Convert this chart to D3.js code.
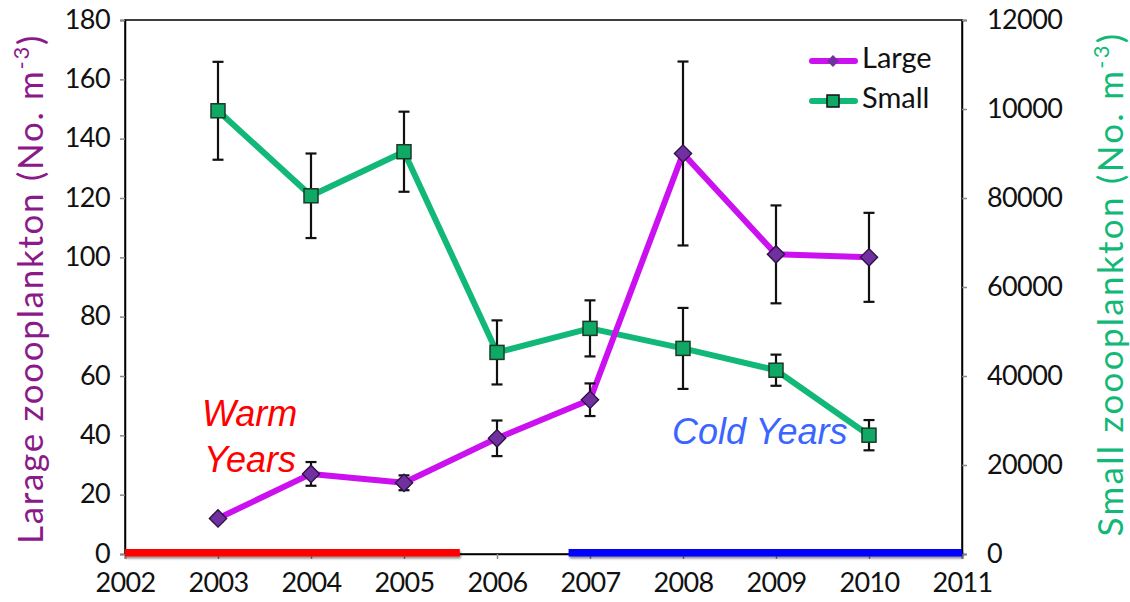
<!DOCTYPE html>
<html>
<head>
<meta charset="utf-8">
<script src="https://cdn.jsdelivr.net/npm/d3@7"></script>
<style>
  html, body { margin: 0; padding: 0; background: #fff; }
  svg { display: block; font-family: Lato, "Open Sans", "Liberation Sans", sans-serif; }
</style>
</head>
<body>
<svg id="chart" width="1130" height="602"></svg>
<script>
// Survey years
const years = [2003, 2004, 2005, 2006, 2007, 2008, 2009, 2010];
// Large zooplankton (No. m^-3), mean and error
const largeMean = [12, 27, 24, 39, 52, 135, 101, 100];
const largeErr  = [1, 4, 2.5, 6, 5.5, 31, 16.5, 15];
// Small zooplankton (No. m^-3), mean and error
const smallMean = [99600, 80500, 90400, 45300, 50700, 46200, 41300, 26700];
const smallErr  = [11000, 9500, 9000, 7200, 6300, 9100, 3500, 3400];
// Axis ticks
const xTicks = [2002, 2003, 2004, 2005, 2006, 2007, 2008, 2009, 2010, 2011];
const leftTicks = [0, 20, 40, 60, 80, 100, 120, 140, 160, 180];
const rightTicks = [0, 20000, 40000, 60000, 80000, 100000, 120000];
const rightTickLabels = ["0", "20000", "40000", "60000", "80000", "10000", "12000"];
// Climate periods along the baseline
const periods = [
  { name: "Warm", start: 2002, end: 2005.6, color: "#ff0000" },
  { name: "Cold", start: 2006.77, end: 2011, color: "#0000ff" }
];

const svg = d3.select("#chart");
const L = 125, R = 962, T = 20, B = 554;

const x = d3.scaleLinear().domain([2002, 2011]).range([L, R]);
const yL = d3.scaleLinear().domain([0, 180]).range([B, T]);
const yR = d3.scaleLinear().domain([0, 120000]).range([B, T]);

const largeColor = "#cc11f0";
const largeMarker = "#7030a0";
const smallColor = "#12b878";
const smallMarker = "#10a865";

// Plot frame (top and sides)
svg.append("rect").attr("x", L).attr("y", T).attr("width", R - L).attr("height", B - T)
  .attr("fill", "none").attr("stroke", "#000").attr("stroke-width", 1.5);

// Axes
const fontSize = 27;
const gx = svg.append("g").attr("transform", `translate(0,${B})`)
  .call(d3.axisBottom(x).tickValues(xTicks).tickFormat(d3.format("d")).tickSize(5).tickPadding(7));
const gl = svg.append("g").attr("transform", `translate(${L},0)`)
  .call(d3.axisLeft(yL).tickValues(leftTicks).tickSize(5).tickPadding(10));
const gr = svg.append("g").attr("transform", `translate(${R},0)`)
  .call(d3.axisRight(yR).tickValues(rightTicks).tickFormat((d, i) => rightTickLabels[i]).tickSize(5).tickPadding(20));
[gx, gl, gr].forEach(g => {
  g.select(".domain").attr("stroke", "#000").attr("stroke-width", 1.5);
  g.selectAll(".tick line").attr("stroke", "#888").attr("stroke-width", 1.5);
  g.selectAll("text").attr("font-size", fontSize).attr("fill", "#111")
    .attr("font-family", "Lato, 'Open Sans', sans-serif").attr("letter-spacing", -0.6);
});
gx.selectAll("text").attr("dy", "0.95em");
gl.selectAll("text").attr("dy", "0.3em");

// Period bars on the baseline
const shadow = svg.append("defs").append("filter").attr("id", "sh")
  .attr("x", "-5%").attr("y", "-100%").attr("width", "110%").attr("height", "300%");
shadow.append("feDropShadow").attr("dx", 1).attr("dy", 2).attr("stdDeviation", 1.2)
  .attr("flood-color", "#000").attr("flood-opacity", 0.45);
svg.append("g").selectAll("rect").data(periods).join("rect")
  .attr("x", d => x(d.start)).attr("width", d => x(d.end) - x(d.start))
  .attr("y", B - 5).attr("height", 7.5)
  .attr("fill", d => d.color)
  .attr("filter", "url(#sh)");

// Error bars
function errorBars(mean, err, y) {
  const g = svg.append("g").attr("stroke", "#111").attr("stroke-width", 2.2);
  years.forEach((yr, i) => {
    const cx = x(yr), top = y(mean[i] + err[i]), bot = y(mean[i] - err[i]);
    g.append("line").attr("x1", cx).attr("x2", cx).attr("y1", top).attr("y2", bot);
    g.append("line").attr("x1", cx - 5.5).attr("x2", cx + 5.5).attr("y1", top).attr("y2", top);
    g.append("line").attr("x1", cx - 5.5).attr("x2", cx + 5.5).attr("y1", bot).attr("y2", bot);
  });
}

// Small series
const smallLine = d3.line().x((d, i) => x(years[i])).y(d => yR(d));
svg.append("path").datum(smallMean).attr("d", smallLine)
  .attr("fill", "none").attr("stroke", smallColor).attr("stroke-width", 6).attr("stroke-linejoin", "round");
errorBars(smallMean, smallErr, yR);
svg.append("g").selectAll("rect").data(smallMean).join("rect")
  .attr("x", (d, i) => x(years[i]) - 7).attr("y", d => yR(d) - 7)
  .attr("width", 14).attr("height", 14)
  .attr("fill", smallMarker).attr("stroke", "#1a3a28").attr("stroke-width", 1.5);

// Large series
const largeLine = d3.line().x((d, i) => x(years[i])).y(d => yL(d));
svg.append("path").datum(largeMean).attr("d", largeLine)
  .attr("fill", "none").attr("stroke", largeColor).attr("stroke-width", 6).attr("stroke-linejoin", "round");
errorBars(largeMean, largeErr, yL);
const diamond = d3.symbol().type(d3.symbolSquare).size(150);
svg.append("g").selectAll("path").data(largeMean).join("path")
  .attr("d", diamond)
  .attr("transform", (d, i) => `translate(${x(years[i])},${yL(d)}) rotate(45)`)
  .attr("fill", largeMarker).attr("stroke", "#2a1040").attr("stroke-width", 1.3);

// Axis titles, spread to span the plot height
function axisTitle(label, cx, cy, color, span) {
  const t = svg.append("text")
    .attr("transform", `translate(${cx},${cy}) rotate(-90)`)
    .attr("text-anchor", "middle").attr("font-size", 35).attr("fill", color);
  t.append("tspan").text(label + " (No. m");
  t.append("tspan").attr("font-size", 22).attr("dy", -14).text("-3");
  t.append("tspan").attr("dy", 14).text(")");
  const natural = t.node().getComputedTextLength();
  const nChars = (label + " (No. m-3)").length;
  t.attr("letter-spacing", (span - natural) / nChars);
  return t;
}
axisTitle("Larage zoooplankton", 43, 289, "#8a1a8a", 510);
axisTitle("Small zoooplankton", 1123, 284, "#12b878", 505);

// Period labels
const warm = svg.append("text").attr("font-size", 36).attr("font-style", "italic")
  .attr("fill", "#ff0000").attr("font-family", "'Liberation Sans', Arial, sans-serif");
warm.append("tspan").attr("x", 202).attr("y", 426).text("Warm");
warm.append("tspan").attr("x", 204).attr("y", 472).text("Years");
svg.append("text").attr("x", 672).attr("y", 444).attr("font-size", 36).attr("font-style", "italic")
  .attr("fill", "#3a66ff").attr("font-family", "'Liberation Sans', Arial, sans-serif").text("Cold Years");

// Legend
const leg = svg.append("g");
const legItems = [
  { label: "Large", color: largeColor, y: 61, kind: "diamond" },
  { label: "Small", color: smallColor, y: 101, kind: "square" }
];
legItems.forEach(it => {
  leg.append("line").attr("x1", 812).attr("x2", 855).attr("y1", it.y).attr("y2", it.y)
    .attr("stroke", it.color).attr("stroke-width", 6).attr("stroke-linecap", "round");
  if (it.kind === "diamond") {
    leg.append("path").attr("d", d3.symbol().type(d3.symbolSquare).size(70))
      .attr("transform", `translate(833,${it.y}) rotate(45)`)
      .attr("fill", largeMarker);
  } else {
    leg.append("rect").attr("x", 827).attr("y", it.y - 6).attr("width", 12).attr("height", 12)
      .attr("fill", smallMarker).attr("stroke", "#111").attr("stroke-width", 1.5);
  }
  leg.append("text").attr("x", 862).attr("y", it.y + 7).attr("font-size", 29)
    .attr("fill", "#111").text(it.label);
});
</script>
</body>
</html>
